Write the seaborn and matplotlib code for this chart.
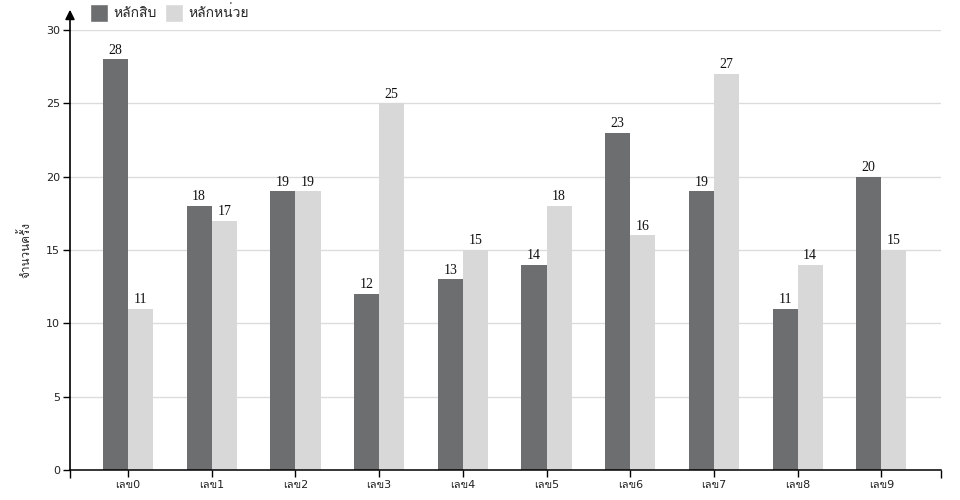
import os
import matplotlib
matplotlib.use("Agg")
import matplotlib.pyplot as plt
from matplotlib import font_manager as fm
import seaborn as sns
import pandas as pd
from matplotlib.patches import Patch

categories = ["เลข0", "เลข1", "เลข2", "เลข3", "เลข4", "เลข5", "เลข6", "เลข7", "เลข8", "เลข9"]
series_names = ["หลักสิบ", "หลักหน่วย"]
tens = [28, 18, 19, 12, 13, 14, 23, 19, 11, 20]
units = [11, 17, 19, 25, 15, 18, 16, 27, 14, 15]
y_ticks = [0, 5, 10, 15, 20, 25, 30]
y_label = "จำนวนครั้ง"

colors = ["#6d6e70", "#d8d8d8"]


def find_thai_families():
    paths = set(f.fname for f in fm.fontManager.ttflist)
    for root in ["/usr/share/fonts", "/usr/local/share/fonts", os.path.expanduser("~/.fonts"),
                 os.path.expanduser("~/.local/share/fonts")]:
        if os.path.isdir(root):
            for dp, _, fns in os.walk(root):
                for fn in fns:
                    if fn.lower().endswith((".ttf", ".otf", ".ttc")):
                        paths.add(os.path.join(dp, fn))
    found = []
    try:
        from fontTools.ttLib import TTFont, TTCollection
    except Exception:
        return found
    for p in sorted(paths):
        try:
            if p.lower().endswith(".ttc"):
                fonts = TTCollection(p).fonts
            else:
                fonts = [TTFont(p, lazy=True)]
            for f in fonts:
                cmap = f.getBestCmap() or {}
                if 0x0E01 in cmap and 0x0E2B in cmap:
                    try:
                        fm.fontManager.addfont(p)
                    except Exception:
                        pass
                    name = fm.FontProperties(fname=p).get_name()
                    if name not in found:
                        found.append(name)
        except Exception:
            continue
    return found


thai_fams = find_thai_families()

sns.set_theme(style="white")
plt.rcParams["font.family"] = ["DejaVu Sans"] + thai_fams + ["Noto Sans"]

df = pd.DataFrame({
    "cat": categories * 2,
    "series": [series_names[0]] * len(categories) + [series_names[1]] * len(categories),
    "value": tens + units,
})

fig = plt.figure(figsize=(9.6, 5.0), dpi=100)
ax = fig.add_axes([70 / 960, 30 / 500, (941 - 70) / 960, 440 / 500])

sns.barplot(data=df, x="cat", y="value", hue="series", palette=colors, width=0.6,
            saturation=1, legend=False, ax=ax, linewidth=0)

for cont in ax.containers:
    ax.bar_label(cont, padding=2, fontsize=10, fontfamily="Liberation Serif", color="#111111")

ax.set_ylim(0, 30)
ax.set_xlim(-0.693, 9.713)
ax.set_yticks(y_ticks)
ax.set_yticklabels([str(v) for v in y_ticks], fontsize=8)
ax.tick_params(axis="y", length=5, width=1, color="black", pad=2, labelcolor="#222222")
ax.tick_params(axis="x", length=5, width=1, color="black", pad=2, labelsize=8, labelcolor="#222222")
ax.tick_params(axis="x", which="minor", length=6, width=1, color="black")
ax.set_xticks([-0.693, 9.713], minor=True)
ax.tick_params(bottom=True, left=True, which="both")
ax.set_xlabel("")
ax.set_ylabel(y_label, fontsize=8.5, labelpad=10)
ax.yaxis.grid(True, color="#dcdcdc", linewidth=1)
ax.set_axisbelow(True)

for s in ["top", "right"]:
    ax.spines[s].set_visible(False)
ax.spines["left"].set_visible(False)
ax.spines["bottom"].set_color("black")
ax.spines["bottom"].set_linewidth(1.1)

ax.annotate("", xy=(0, 1.046), xytext=(0, 0), xycoords="axes fraction",
            textcoords="axes fraction",
            arrowprops=dict(arrowstyle="-|>", color="black", lw=1.2, mutation_scale=14,
                            shrinkA=0, shrinkB=0), annotation_clip=False)

handles = [Patch(facecolor=colors[0], label=series_names[0]),
           Patch(facecolor=colors[1], label=series_names[1])]
fig.legend(handles=handles, loc="upper left", bbox_to_anchor=(87 / 960, 1 - 1 / 500), ncol=2,
           frameon=False, fontsize=10, handlelength=1.3, handleheight=1.62,
           handletextpad=0.4, columnspacing=0.6, borderpad=0.2, borderaxespad=0)

fig.savefig("out.png", dpi=100)
